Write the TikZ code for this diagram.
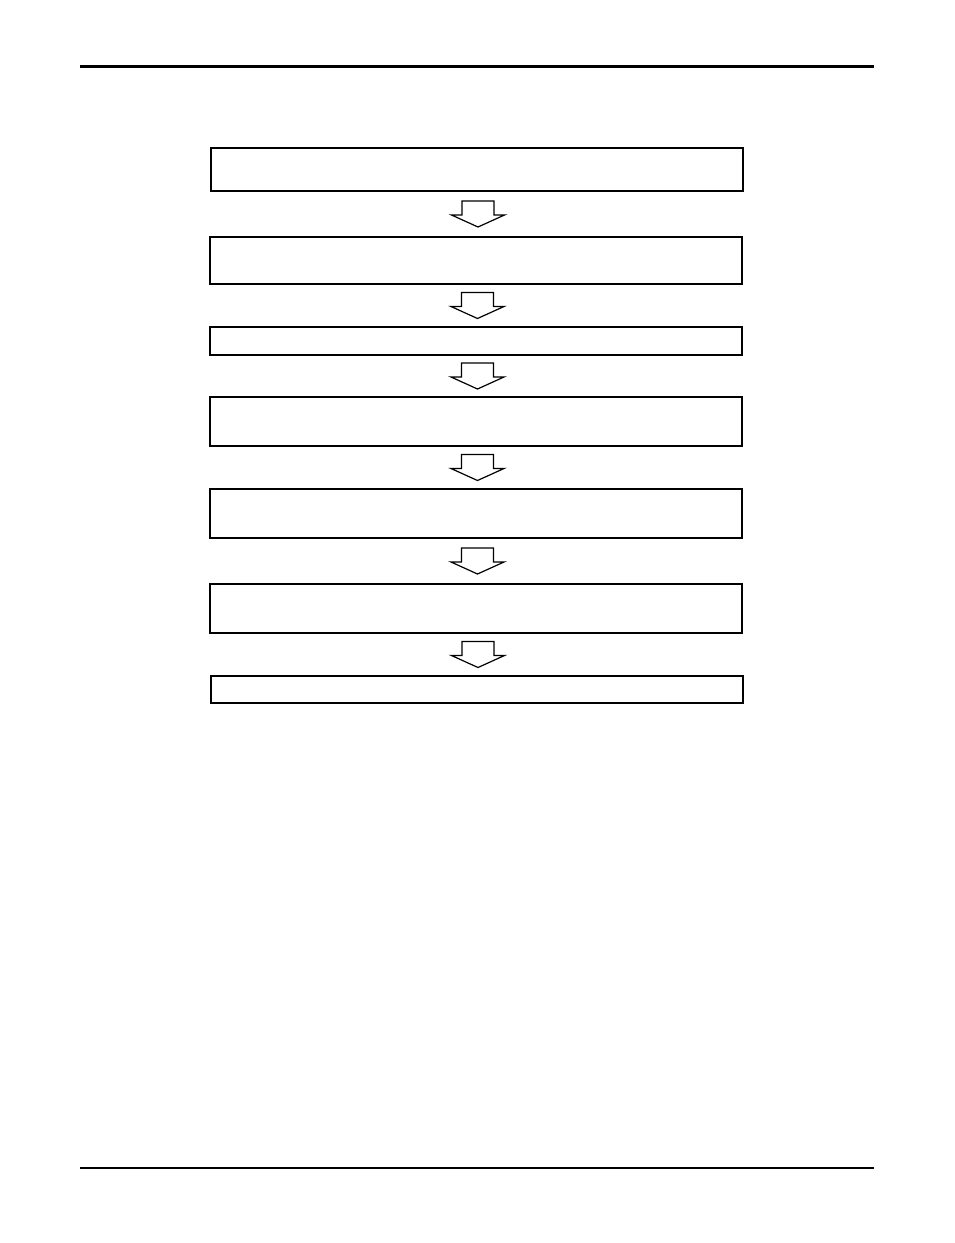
\documentclass[tikz,border=0pt]{standalone}
\usepackage{tikz}
\usetikzlibrary{calc}
\tikzset{
  rule/.style={draw=black, line width=3pt},
  thinrule/.style={draw=black, line width=1.3pt},
  stepbox/.style={draw=black, line width=1.3pt, minimum width=532pt, inner sep=0pt},
  blockarrow/.style={draw=black, fill=white, line width=1.2pt, line join=miter},
}
\begin{document}
\begin{tikzpicture}[x=1pt,y=-1pt]
  \useasboundingbox (0,0) rectangle (954,1243);
  \draw[rule] (80,66) -- (874,66);
  \draw[thinrule] (80,1168) -- (874,1168);
  \foreach \n/\x/\y/\h in {1/477/169.5/43,2/476/260.5/47,3/476/341/28,4/476/421.5/49,
                           5/476/513.5/49,6/476/608.5/49,7/477/689.5/27}
    \node[stepbox, minimum height=\h pt] (b\n) at (\x,\y) {};
  \foreach \a/\b in {1/2,2/3,3/4,4/5,5/6,6/7}
    \draw[blockarrow] ($(b\a.south)!0.5!(b\b.north)+(1.5,0)$) ++(-16,-13) -- ++(0,14)
      -- ++(-10.5,0) -- ++(26.5,12) -- ++(26.5,-12) -- ++(-10.5,0) -- ++(0,-14) -- cycle;
\end{tikzpicture}
\end{document}
